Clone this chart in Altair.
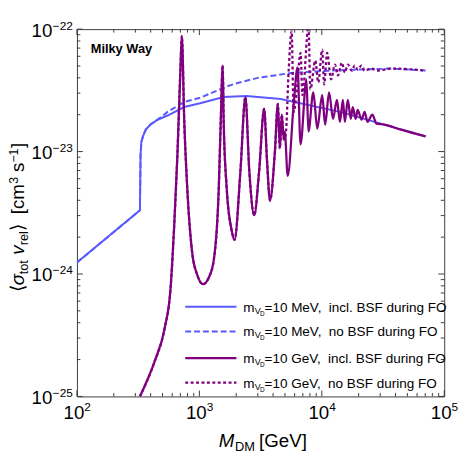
import altair as alt
import pandas as pd

# ---------------- data ----------------
blue_solid_x = [100, 327, 331, 336, 346, 365, 400, 457, 550, 753, 1013, 1580, 2420, 4624, 14060, 32360, 70470]
blue_solid_y = [1.24e-24, 3.31e-24, 9.5e-24, 1.2e-23, 1.33e-23, 1.51e-23, 1.67e-23, 1.82e-23, 1.97e-23, 2.31e-23,
                2.48e-23, 2.79e-23, 2.84e-23, 2.69e-23, 2.11e-23, 1.66e-23, 1.33e-23]

blue_dashed_x = [100, 327, 331, 336, 346, 365, 400, 457, 550, 753, 1013, 1670, 2011, 3000, 5780, 14060, 36800, 70470]
blue_dashed_y = [1.24e-24, 3.31e-24, 9.5e-24, 1.2e-23, 1.33e-23, 1.51e-23, 1.67e-23, 1.83e-23, 2.11e-23, 2.54e-23,
                 2.75e-23, 3.4e-23, 3.61e-23, 4.0e-23, 4.4e-23, 4.62e-23, 4.76e-23, 4.59e-23]

purple_solid_x = [327, 432, 520, 581, 626, 662, 699, 719, 753, 796, 874, 958, 1071, 1197, 1313, 1441,
                  1495, 1551, 1580, 1671, 1832, 1938, 2165, 2376, 2558, 2806, 3078, 3379, 3571, 3775,
                  4141, 4377, 4543, 4714, 4892, 4983, 5268, 5888, 6339, 6702, 7490, 7775, 8527, 9183,
                  10074, 10650, 11470, 12350, 13300, 14060, 14870, 15430, 16310, 17240, 17890, 18910,
                  19630, 21130, 22350, 23630, 25920, 27910, 32360, 44350, 70470]
purple_solid_y = [1.0e-25, 1.94e-25, 3.58e-25, 7.52e-25, 2.75e-24, 9.51e-24, 4.43e-23, 8.78e-23,
                  1.75e-23, 5.07e-24, 1.49e-24, 9.93e-25, 8.25e-25, 9.4e-25, 1.31e-24, 5.07e-24,
                  1.75e-23, 5.04e-23, 1.75e-23, 5.07e-24, 2.29e-24, 1.90e-24, 6.94e-24, 2.79e-23,
                  6.94e-24, 3.02e-24, 6.94e-24, 2.23e-23, 8.35e-24, 3.98e-24, 1.005e-23, 2.45e-23,
                  1.064e-23, 2.0e-23, 1.256e-23, 1.456e-23, 6.33e-24, 2.40e-23, 4.86e-23, 1.146e-23,
                  3.89e-23, 1.456e-23, 3.05e-23, 1.54e-23, 2.89e-23, 1.66e-23, 3.05e-23, 1.85e-23,
                  2.64e-23, 1.75e-23, 2.64e-23, 1.75e-23, 2.64e-23, 1.85e-23, 2.31e-23, 1.85e-23,
                  2.19e-23, 1.82e-23, 2.11e-23, 1.75e-23, 2.0e-23, 1.69e-23, 1.66e-23, 1.51e-23, 1.33e-23]

# dotted purple: identical to the solid one up to this mass, then these points
purple_split_mass = 4892
purple_dotted_x = [5076, 5367, 5673, 5888, 6225, 6702, 6950, 7775, 8070, 8850, 9355, 10074, 10450,
                   11050, 11900, 12820, 13550, 14590, 15430, 16310, 17560, 18570, 19630, 21130,
                   22350, 25440, 28430, 36800, 70470]
purple_dotted_y = [1.38e-23, 4.68e-23, 9.6e-23, 2.11e-23, 3.05e-23, 6.41e-23, 2.89e-23, 1.05e-22,
                   3.23e-23, 5.53e-23, 3.68e-23, 6.78e-23, 3.54e-23, 6.41e-23, 3.89e-23, 5.13e-23,
                   4.19e-23, 5.32e-23, 4.43e-23, 5.13e-23, 4.59e-23, 5.04e-23, 4.68e-23, 5.04e-23,
                   4.59e-23, 4.76e-23, 4.59e-23, 4.76e-23, 4.59e-23]

x_major = [1e2, 1e3, 1e4, 1e5]
x_exponents = ["2", "3", "4", "5"]
y_major = [1e-22, 1e-23, 1e-24, 1e-25]
y_exponents = ["\u221222", "\u221223", "\u221224", "\u221225"]
x_minor = [k * 10.0 ** e for e in (2, 3, 4) for k in range(2, 10)]
y_minor = [k * 10.0 ** e for e in (-25, -24, -23) for k in range(2, 10)]

legend_mass = ["=10 MeV,", "=10 MeV,", "=10 GeV,", "=10 GeV,"]
legend_desc = ["incl. BSF during FO", "no BSF during FO", "incl. BSF during FO", "no BSF during FO"]

# ---------------- styling ----------------
W, H = 373, 373
FONT = "Liberation Sans"
BLUE = "#5a5aff"
PURPLE = "#800080"
FRAME = "#3c3c3c"

xs = alt.Scale(type="log", domain=[1e2, 1e5], nice=False)
ys = alt.Scale(type="log", domain=[1e-25, 1e-22], nice=False)


def line(xv, yv, color, width, dash=None, interp="linear"):
    kw = dict(color=color, strokeWidth=width, clip=True, interpolate=interp)
    if dash:
        kw["strokeDash"] = dash
    df = pd.DataFrame({"m": xv, "s": yv})
    return alt.Chart(df).mark_line(**kw).encode(
        x=alt.X("m:Q", scale=xs, axis=None),
        y=alt.Y("s:Q", scale=ys, axis=None),
        order=alt.Order("m:Q"),
    )


n_split = purple_solid_x.index(purple_split_mass) + 1
dot_x = purple_solid_x[:n_split] + purple_dotted_x
dot_y = purple_solid_y[:n_split] + purple_dotted_y

layers = [
    line(blue_solid_x, blue_solid_y, BLUE, 2),
    line(blue_dashed_x, blue_dashed_y, BLUE, 2, [6, 3]),
    line(purple_solid_x, purple_solid_y, PURPLE, 2.3, interp="monotone"),
    line(dot_x, dot_y, PURPLE, 2.3, [3, 2.5], interp="monotone"),
]

# ---------------- ticks (inward, on all four sides) ----------------
def xticks(vals, L):
    df = pd.DataFrame({"t": vals})
    b = alt.Chart(df).mark_rule(color=FRAME, strokeWidth=1).encode(
        x=alt.X("t:Q", scale=xs, axis=None), y=alt.value(H), y2=alt.value(H - L))
    t = alt.Chart(df).mark_rule(color=FRAME, strokeWidth=1).encode(
        x=alt.X("t:Q", scale=xs, axis=None), y=alt.value(0), y2=alt.value(L))
    return [b, t]


def yticks(vals, L):
    df = pd.DataFrame({"t": vals})
    l = alt.Chart(df).mark_rule(color=FRAME, strokeWidth=1).encode(
        y=alt.Y("t:Q", scale=ys, axis=None), x=alt.value(0), x2=alt.value(L))
    r = alt.Chart(df).mark_rule(color=FRAME, strokeWidth=1).encode(
        y=alt.Y("t:Q", scale=ys, axis=None), x=alt.value(W), x2=alt.value(W - L))
    return [l, r]


layers += xticks(x_major, 6) + xticks(x_minor, 3.5) + yticks(y_major, 6) + yticks(y_minor, 3.5)

# ---------------- tick labels ----------------
xlab = pd.DataFrame({"t": x_major, "e": x_exponents})
layers.append(alt.Chart(xlab).mark_text(align="right", baseline="alphabetic", dx=7.5, fontSize=19,
                                        font=FONT, color="black").encode(
    x=alt.X("t:Q", scale=xs, axis=None), y=alt.value(H + 23), text=alt.value("10")))
layers.append(alt.Chart(xlab).mark_text(align="left", baseline="alphabetic", dx=7.5, fontSize=12,
                                        font=FONT, color="black").encode(
    x=alt.X("t:Q", scale=xs, axis=None), y=alt.value(H + 15), text="e:N"))

ylab = pd.DataFrame({"t": y_major, "e": y_exponents})
layers.append(alt.Chart(ylab).mark_text(align="right", baseline="alphabetic", dy=7.5, fontSize=19,
                                        font=FONT, color="black").encode(
    y=alt.Y("t:Q", scale=ys, axis=None), x=alt.value(-25), text=alt.value("10")))
layers.append(alt.Chart(ylab).mark_text(align="left", baseline="alphabetic", dy=0.5, fontSize=12,
                                        font=FONT, color="black").encode(
    y=alt.Y("t:Q", scale=ys, axis=None), x=alt.value(-24.5), text="e:N"))


def txt(s, x, y, size, style="normal", weight="normal", angle=0, align="left"):
    kw = dict(align=align, baseline="alphabetic", fontSize=size, font=FONT, fontStyle=style,
              fontWeight=weight, color="black")
    if angle:
        kw["angle"] = angle
    return alt.Chart(pd.DataFrame({"a": [0]})).mark_text(**kw).encode(
        x=alt.value(x), y=alt.value(y), text=alt.value(s))


# ---------------- axis titles ----------------
layers += [
    txt("M", 144, 424, 19, style="italic"),
    txt("DM", 160.5, 428, 13),
    txt("[GeV]", 185, 424, 19),
]
yt = [
    ("\u27e8", -54, 267, 19, "normal"),
    ("\u03c3", -54, 260, 19, "italic"),
    ("tot", -50, 249, 13, "normal"),
    ("v", -54, 229, 19, "italic"),
    ("rel", -50, 219.5, 13, "normal"),
    ("\u27e9", -54, 205, 19, "normal"),
    ("[cm", -54, 188, 19, "normal"),
    ("3", -60, 157, 12.5, "normal"),
    ("s", -54, 145, 19, "normal"),
    ("\u22121", -60, 135.5, 12.5, "normal"),
    ("]", -54, 120.6, 19, "normal"),
]
for s, x, y, size, st in yt:
    layers.append(txt(s, x, y, size, style=st, angle=270))

# ---------------- panel label ----------------
layers.append(txt("Milky Way", 14, 24, 13, weight="bold"))

# ---------------- legend ----------------
leg_rows = [(282, BLUE, None), (307, BLUE, [6, 3]), (334, PURPLE, None), (359, PURPLE, [3, 2.5])]
for i, (ly, col, dash) in enumerate(leg_rows):
    kw = dict(color=col, strokeWidth=2.3 if col == PURPLE else 2)
    if dash:
        kw["strokeDash"] = dash
    layers.append(alt.Chart(pd.DataFrame({"a": [0]})).mark_rule(**kw).encode(
        x=alt.value(110), x2=alt.value(162), y=alt.value(ly)))
    layers.append(txt("m", 169, ly + 5, 13.7))
    layers.append(txt("V", 180.5, ly + 7, 9))
    layers.append(txt("D", 186, ly + 9, 6.5))
    layers.append(txt(legend_mass[i] + "\u00a0\u00a0" + legend_desc[i], 190.5, ly + 5, 13.7))

chart = alt.layer(*layers).properties(
    width=W, height=H,
    padding={"left": 70, "top": 18, "right": 15, "bottom": 55},
    autosize=alt.AutoSizeParams(type="none"),
).configure_view(stroke=FRAME, strokeWidth=1)

chart.save("out.html", embed_options={"renderer": "svg", "actions": False})
